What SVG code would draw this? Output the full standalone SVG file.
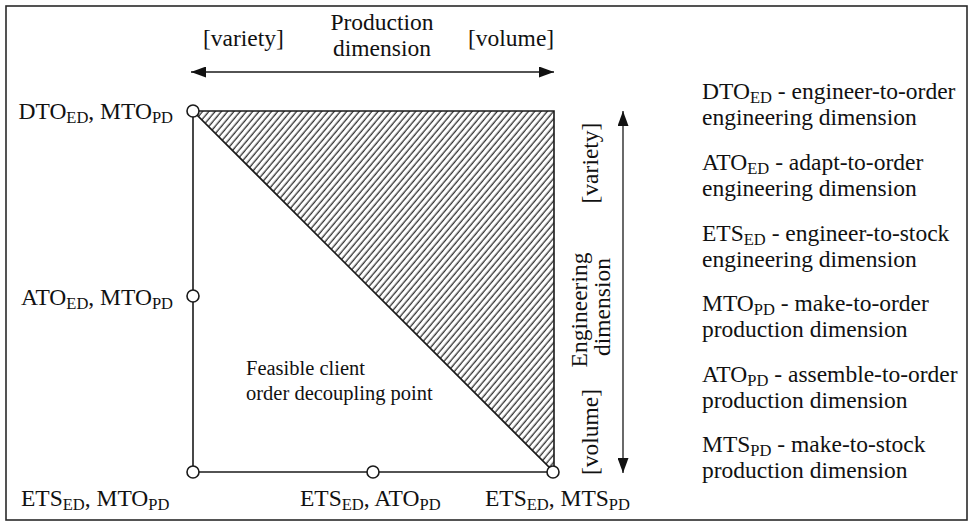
<svg xmlns="http://www.w3.org/2000/svg" width="972" height="523" viewBox="0 0 972 523">
  <defs>
    <style>
      text { font-family: "Liberation Serif", "Times New Roman", serif; font-size: 23.5px; fill: #111111; }
      .sub { font-size: 16.5px; }
      .small { font-size: 20.5px; }
      .edge { stroke: #1a1a1a; stroke-width: 1.6; fill: none; }
      .axis { stroke: #1a1a1a; stroke-width: 1.3; fill: none; }
      .node { fill: #ffffff; stroke: #1a1a1a; stroke-width: 1.6; }
      .frame { fill: #ffffff; stroke: #2a2a2a; stroke-width: 1.6; }
    </style>
    <marker id="head" viewBox="0 0 15 11" refX="15" refY="5.5" markerWidth="15" markerHeight="11" markerUnits="userSpaceOnUse" orient="auto-start-reverse">
      <path d="M0,0 L15,5.5 L0,11 z" fill="#111111"/>
    </marker>
    <pattern id="hatch" width="4.8" height="10" patternUnits="userSpaceOnUse" patternTransform="rotate(40)">
      <line x1="1.2" y1="0" x2="1.2" y2="10" stroke="#111111" stroke-width="1.15"/>
    </pattern>
  </defs>

  <!-- outer frame -->
  <rect class="frame" x="6" y="6" width="961" height="514"/>

  <!-- feasible region triangle and frame edges -->
  <g id="connectors">
    <polygon points="193,111 554,111 554,472" fill="url(#hatch)" stroke="#1a1a1a" stroke-width="1.6"/>
    <line class="edge" x1="193" y1="111" x2="193" y2="472"/>
    <line class="edge" x1="193" y1="472" x2="554" y2="472"/>
    <!-- production dimension axis -->
    <line class="axis" x1="191" y1="72" x2="554" y2="72" marker-start="url(#head)" marker-end="url(#head)"/>
    <!-- engineering dimension axis -->
    <line class="axis" x1="623" y1="111" x2="623" y2="473" marker-start="url(#head)" marker-end="url(#head)"/>
  </g>

  <!-- axis captions -->
  <g id="production-axis">
    <text x="382" y="30" text-anchor="middle">Production</text>
    <text x="382" y="56" text-anchor="middle">dimension</text>
    <text x="203" y="46">[variety]</text>
    <text x="468" y="46">[volume]</text>
  </g>
  <g id="engineering-axis">
    <text transform="translate(598,163) rotate(-90)" text-anchor="middle">[variety]</text>
    <text transform="translate(587,310) rotate(-90)" text-anchor="middle">Engineering</text>
    <text transform="translate(610,307) rotate(-90)" text-anchor="middle">dimension</text>
    <text transform="translate(598,432) rotate(-90)" text-anchor="middle">[volume]</text>
  </g>

  <g id="feasible-label">
    <text class="small" x="246" y="375">Feasible client</text>
    <text class="small" x="246" y="400">order decoupling point</text>
  </g>

  <!-- decoupling point nodes -->
  <g id="node-dto-mto">
    <circle class="node" cx="193" cy="111" r="6"/>
    <text x="173" y="119" text-anchor="end">DTO<tspan class="sub" dy="4">ED</tspan><tspan dy="-4">, MTO</tspan><tspan class="sub" dy="4">PD</tspan></text>
  </g>
  <g id="node-ato-mto">
    <circle class="node" cx="193" cy="296" r="6"/>
    <text x="173" y="305" text-anchor="end">ATO<tspan class="sub" dy="4">ED</tspan><tspan dy="-4">, MTO</tspan><tspan class="sub" dy="4">PD</tspan></text>
  </g>
  <g id="node-ets-mto">
    <circle class="node" cx="193" cy="472" r="6"/>
    <text x="21" y="506">ETS<tspan class="sub" dy="4">ED</tspan><tspan dy="-4">, MTO</tspan><tspan class="sub" dy="4">PD</tspan></text>
  </g>
  <g id="node-ets-ato">
    <circle class="node" cx="373" cy="472" r="6"/>
    <text x="300" y="506">ETS<tspan class="sub" dy="4">ED</tspan><tspan dy="-4">, ATO</tspan><tspan class="sub" dy="4">PD</tspan></text>
  </g>
  <g id="node-ets-mts">
    <circle class="node" cx="553" cy="472" r="6"/>
    <text x="485" y="506">ETS<tspan class="sub" dy="4">ED</tspan><tspan dy="-4">, MTS</tspan><tspan class="sub" dy="4">PD</tspan></text>
  </g>

  <!-- abbreviations legend -->
  <g id="legend">
    <text x="702" y="99">DTO<tspan class="sub" dy="4">ED</tspan><tspan dy="-4"> - engineer-to-order</tspan></text>
    <text x="702" y="125">engineering dimension</text>
    <text x="702" y="170">ATO<tspan class="sub" dy="4">ED</tspan><tspan dy="-4"> - adapt-to-order</tspan></text>
    <text x="702" y="196">engineering dimension</text>
    <text x="702" y="241">ETS<tspan class="sub" dy="4">ED</tspan><tspan dy="-4"> - engineer-to-stock</tspan></text>
    <text x="702" y="267">engineering dimension</text>
    <text x="702" y="311">MTO<tspan class="sub" dy="4">PD</tspan><tspan dy="-4"> - make-to-order</tspan></text>
    <text x="702" y="337">production dimension</text>
    <text x="702" y="382">ATO<tspan class="sub" dy="4">PD</tspan><tspan dy="-4"> - assemble-to-order</tspan></text>
    <text x="702" y="408">production dimension</text>
    <text x="702" y="452">MTS<tspan class="sub" dy="4">PD</tspan><tspan dy="-4"> - make-to-stock</tspan></text>
    <text x="702" y="478">production dimension</text>
  </g>
</svg>
